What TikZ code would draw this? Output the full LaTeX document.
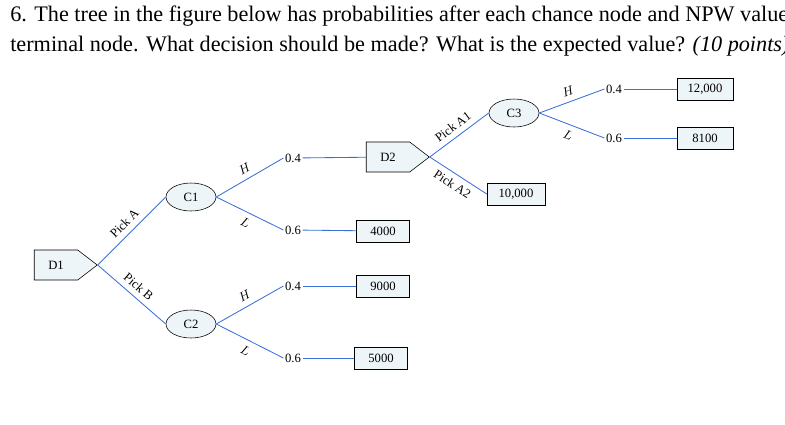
\documentclass[tikz,border=0pt]{standalone}
\usepackage{fontspec}
\setmainfont{Liberation Serif}
\usetikzlibrary{shapes.geometric,shapes.symbols,positioning}
\definecolor{branch}{HTML}{3A6FD8}
\definecolor{boxfill}{HTML}{EEF5F9}
\begin{document}
\begin{tikzpicture}[x=0.025cm,y=-0.025cm]
\tikzstyle{dec}=[signal, signal to=east, signal pointer angle=75, draw, fill=boxfill, minimum width=63*0.025cm, minimum height=30*0.025cm, inner sep=1pt, font=\small]
\tikzstyle{chn}=[ellipse, draw, fill=boxfill, minimum width=50*0.025cm, minimum height=28*0.025cm, inner sep=1pt, font=\small]
\tikzstyle{term}=[rectangle, draw, fill=boxfill, minimum width=53*0.025cm, minimum height=22*0.025cm, inner sep=1pt, font=\small]
\tikzstyle{prob}=[inner sep=1pt, font=\small]
\tikzstyle{br}=[branch, semithick]
\tikzstyle{lbl}=[sloped, above, text=black, font=\small, inner sep=4pt]
\useasboundingbox (0,0) rectangle (785,424);
\node[anchor=north west, align=left, inner sep=0pt, font=\fontsize{15.8}{21}\selectfont] (title) at (10,6)
{6. The tree in the figure below has probabilities after each chance node and NPW values for each\\
terminal node. What decision should be made? What is the expected value? \textit{(10 points)}};
\node[dec] (d1) at (56,265){D1};
\node[chn] (c1) at (191,197){C1};
\node[chn] (c2) at (191,324){C2};
\node[prob] (p11) at (293,158){0.4};
\node[prob] (p12) at (293,230){0.6};
\node[prob] (p21) at (293,286){0.4};
\node[prob] (p22) at (293,358){0.6};
\node[dec] (d2) at (388,157){D2};
\node[term] (t12) at (383,231){4000};
\node[term] (t21) at (383,286){9000};
\node[term] (t22) at (381,358){5000};
\node[chn] (c3) at (514,113){C3};
\node[term, minimum width=58*0.025cm] (t2) at (516,194){10,000};
\node[prob] (p31) at (614,89){0.4};
\node[prob] (p32) at (614,138){0.6};
\node[term, minimum width=56*0.025cm] (t31) at (705,89){12,000};
\node[term, minimum width=56*0.025cm] (t32) at (705,138){8100};
\draw[br] (d1.east) -- node[lbl]{Pick A} (c1.west);
\draw[br] (d1.east) -- node[lbl]{Pick B} (c2.west);
\draw[br] (c1.east) -- node[lbl]{$H$} (p11.west);
\draw[br] (c1.east) -- node[lbl, below]{$L$} (p12.west);
\draw[br] (c2.east) -- node[lbl]{$H$} (p21.west);
\draw[br] (c2.east) -- node[lbl, below]{$L$} (p22.west);
\draw[br] (p11) -- (d2);
\draw[br] (p12) -- (t12);
\draw[br] (p21) -- (t21);
\draw[br] (p22) -- (t22);
\draw[br] (d2.east) -- node[lbl]{Pick A1} (c3.west);
\draw[br] (d2.east) -- node[lbl, below]{Pick A2} (t2.west);
\draw[br] (c3.east) -- node[lbl]{$H$} (p31.west);
\draw[br] (c3.east) -- node[lbl, below]{$L$} (p32.west);
\draw[br] (p31) -- (t31);
\draw[br] (p32) -- (t32);
\end{tikzpicture}
\end{document}
